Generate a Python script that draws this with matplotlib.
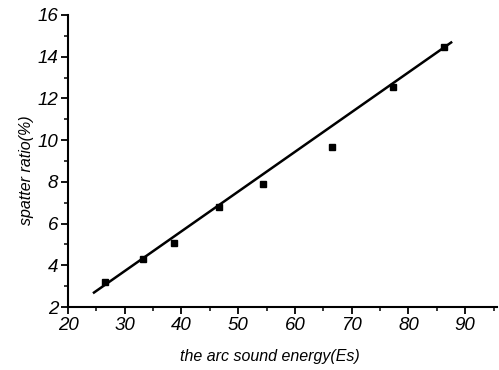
import matplotlib
matplotlib.use("Agg")
import matplotlib.pyplot as plt
import numpy as np

energy = [26.6, 33.3, 38.7, 46.6, 54.3, 66.6, 77.2, 86.3]
spatter = [3.18, 4.30, 5.05, 6.80, 7.88, 9.68, 12.53, 14.46]
fit_slope = 0.1905
fit_intercept = -1.99
fit_range = [24.4, 87.7]
x_ticks = [20, 30, 40, 50, 60, 70, 80, 90]
x_labels = ['20', '30', '40', '50', '60', '70', '80', '90']
y_ticks = [2, 4, 6, 8, 10, 12, 14, 16]
y_labels = ['2', '4', '6', '8', '10', '12', '14', '16']

plt.rcParams['font.family'] = ['Liberation Sans', 'DejaVu Sans']

fig = plt.figure(figsize=(4.99, 3.70), dpi=100)
ax = fig.add_axes([68/499, 1 - 307/370, (497 - 68)/499, (307 - 15)/370])

fx = np.array(fit_range)
ax.plot(fx, fit_slope * fx + fit_intercept, color='black', lw=1.8, solid_capstyle='butt')
ax.plot(energy, spatter, 's', color='black', ms=5)

ax.set_xlim(20, 95.6)
ax.set_ylim(2, 16)
ax.set_xticks(x_ticks, x_labels, fontstyle='italic', fontsize=13.5)
ax.set_yticks(y_ticks, y_labels, fontstyle='italic', fontsize=13.5)
ax.set_xticks(np.arange(25, 96, 10), minor=True)
ax.set_yticks(np.arange(3, 16, 2), minor=True)
for s in ['top', 'right']:
    ax.spines[s].set_visible(False)
for s in ['left', 'bottom']:
    ax.spines[s].set_linewidth(1.5)
ax.tick_params(which='major', direction='out', length=5, width=1.3, pad=2)
ax.tick_params(which='minor', direction='out', length=3, width=1.1)

ax.set_xlabel('the arc sound energy(Es)', fontsize=11.5, fontstyle='italic')
ax.set_ylabel('spatter ratio(%)', fontsize=11.5, fontstyle='italic')
ax.xaxis.set_label_coords((270 - 68) / (497 - 68), -(349 - 307) / (307 - 15))
ax.yaxis.set_label_coords(-(68 - 34) / (497 - 68), (307 - 170) / (307 - 15))

fig.savefig('out.png', dpi=100)
